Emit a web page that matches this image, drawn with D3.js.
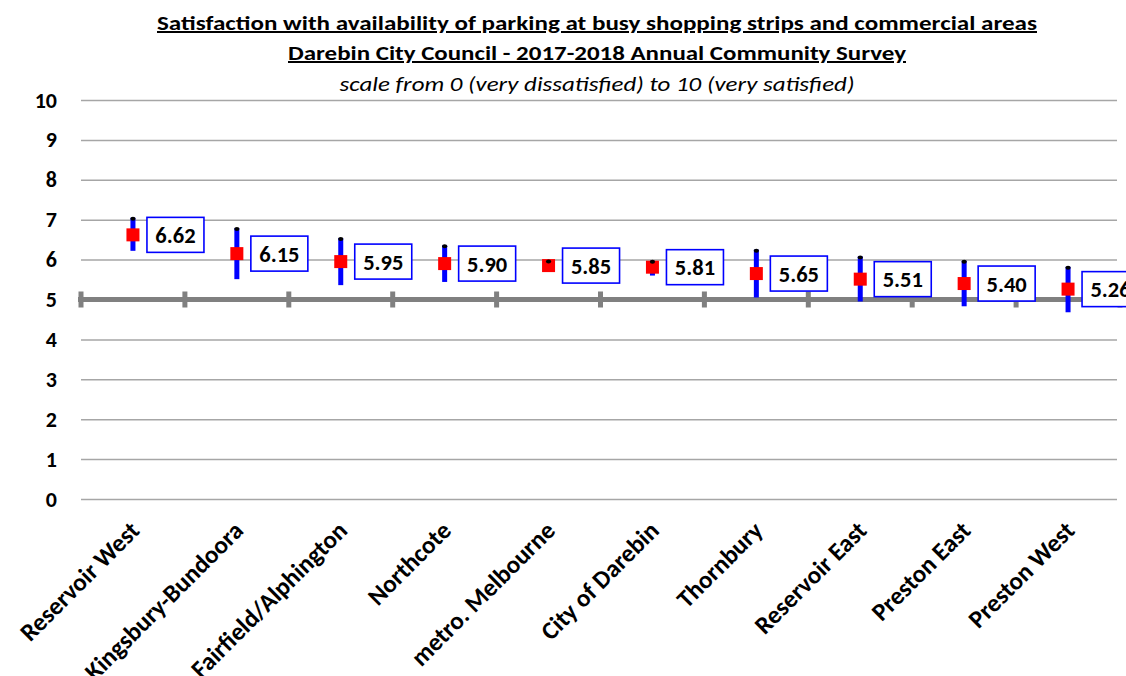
<!DOCTYPE html>
<html>
<head>
<meta charset="utf-8">
<script src="https://cdn.jsdelivr.net/npm/d3@7"></script>
<style>
  html, body { margin: 0; padding: 0; background: #fff; }
  svg { display: block; }
</style>
</head>
<body>
<svg id="chart" width="1126" height="676"></svg>
<script>
// Survey areas, mean satisfaction scores and 95% confidence bounds
const areas = ["Reservoir West", "Kingsbury-Bundoora", "Fairfield/Alphington", "Northcote",
  "metro. Melbourne", "City of Darebin", "Thornbury", "Reservoir East", "Preston East", "Preston West"];
const means = [6.62, 6.15, 5.95, 5.90, 5.85, 5.81, 5.65, 5.51, 5.40, 5.26];
const lower = [6.22, 5.51, 5.36, 5.44, 5.75, 5.60, 5.05, 4.95, 4.83, 4.68];
const upper = [7.05, 6.79, 6.54, 6.36, 5.98, 5.97, 6.25, 6.08, 5.97, 5.82];
const yTicks = [0, 1, 2, 3, 4, 5, 6, 7, 8, 9, 10];
const midline = 5;

const titleLines = [
  "Satisfaction  with availability  of parking at busy shopping strips and commercial  areas",
  "Darebin City Council  - 2017-2018 Annual Community Survey",
  "scale from 0 (very dissatisfied) to 10 (very satisfied)"
];

const svg = d3.select("#chart");
const font = "Carlito, Calibri, 'Liberation Sans Narrow', 'Open Sans', sans-serif";

const x = d3.scaleBand().domain(areas).range([81, 1120]).padding(0);
const y = d3.scaleLinear().domain([0, 10]).range([499, 100]);

// Titles
const titleSpec = [
  { y: 30, w: 880, bold: true, italic: false, underline: true },
  { y: 60, w: 618, bold: true, italic: false, underline: true },
  { y: 91, w: 515, bold: false, italic: true, underline: false }
];
svg.append("g").selectAll("text").data(titleLines).join("text")
  .attr("x", 597)
  .attr("y", (d, i) => titleSpec[i].y)
  .attr("text-anchor", "middle")
  .attr("font-family", font)
  .attr("font-size", 20)
  .attr("font-weight", (d, i) => titleSpec[i].bold ? "bold" : "normal")
  .attr("font-style", (d, i) => titleSpec[i].italic ? "italic" : "normal")
  .attr("text-decoration", (d, i) => titleSpec[i].underline ? "underline" : "none")
  .attr("textLength", (d, i) => titleSpec[i].w)
  .attr("lengthAdjust", "spacingAndGlyphs")
  .attr("fill", "#000")
  .text(d => d);

// Horizontal gridlines and y tick labels
const yAxis = d3.axisLeft(y).tickValues(yTicks).tickSize(-(1117 - 81)).tickPadding(24).tickFormat(d3.format("d"));
const gy = svg.append("g").attr("transform", "translate(81,0)").call(yAxis);
gy.select(".domain").remove();
gy.selectAll(".tick line").attr("stroke", "#a6a6a6").attr("stroke-width", 1.5);
gy.selectAll(".tick text")
  .attr("font-family", font).attr("font-size", 22).attr("font-weight", "bold").attr("fill", "#000");

// Category axis drawn along the midpoint of the scale
const xAxis = d3.axisBottom(x).tickSize(0).tickFormat("");
const gx = svg.append("g").attr("transform", `translate(0,${y(midline)})`).call(xAxis);
gx.select(".domain").remove();
svg.append("line")
  .attr("x1", 78).attr("x2", 1126)
  .attr("y1", y(midline)).attr("y2", y(midline))
  .attr("stroke", "#808080").attr("stroke-width", 5);
const boundaries = [x.range()[0]].concat(areas.map(a => x(a) + x.bandwidth()));
svg.append("g").selectAll("rect").data(boundaries).join("rect")
  .attr("x", d => d - 2.5).attr("y", y(midline) - 8)
  .attr("width", 5).attr("height", 16)
  .attr("fill", "#808080");

// Category labels
svg.append("g").selectAll("text").data(areas).join("text")
  .attr("transform", d => `translate(${x(d) + x.bandwidth() / 2 + 8},532) rotate(-45)`)
  .attr("text-anchor", "end")
  .attr("font-family", font)
  .attr("font-size", 25)
  .attr("font-weight", "bold")
  .attr("fill", "#000")
  .text(d => d);

const cx = i => x(areas[i]) + x.bandwidth() / 2;

// Confidence interval bars
const pts = svg.append("g");
pts.selectAll("rect.ci").data(means).join("rect")
  .attr("class", "ci")
  .attr("x", (d, i) => cx(i) - 2.5)
  .attr("y", (d, i) => y(upper[i]))
  .attr("width", 5)
  .attr("height", (d, i) => y(lower[i]) - y(upper[i]))
  .attr("fill", "#0000ff");

// Mean markers
pts.selectAll("rect.mean").data(means).join("rect")
  .attr("class", "mean")
  .attr("x", (d, i) => cx(i) - 6.5)
  .attr("y", d => y(d) - 6.5)
  .attr("width", 13).attr("height", 13)
  .attr("fill", "#ff0000");

// Upper caps, drawn over the markers
pts.selectAll("ellipse.cap").data(means).join("ellipse")
  .attr("class", "cap")
  .attr("cx", (d, i) => cx(i))
  .attr("cy", (d, i) => y(upper[i]) + 1)
  .attr("rx", 2.6).attr("ry", 2)
  .attr("fill", "#000");

// Value labels
const lab = svg.append("g").selectAll("g").data(means).join("g")
  .attr("transform", (d, i) => `translate(${cx(i) + 14},${y(d)})`);
lab.append("rect")
  .attr("x", 0).attr("y", -17.5)
  .attr("width", 57).attr("height", 35)
  .attr("fill", "#fff")
  .attr("stroke", "#0000ff").attr("stroke-width", 1.6);
lab.append("text")
  .attr("x", 28.5).attr("y", 0).attr("dy", "0.36em")
  .attr("text-anchor", "middle")
  .attr("font-family", font)
  .attr("font-size", 22.5)
  .attr("font-weight", "bold")
  .attr("fill", "#000")
  .text(d => d3.format(".2f")(d));
</script>
</body>
</html>
